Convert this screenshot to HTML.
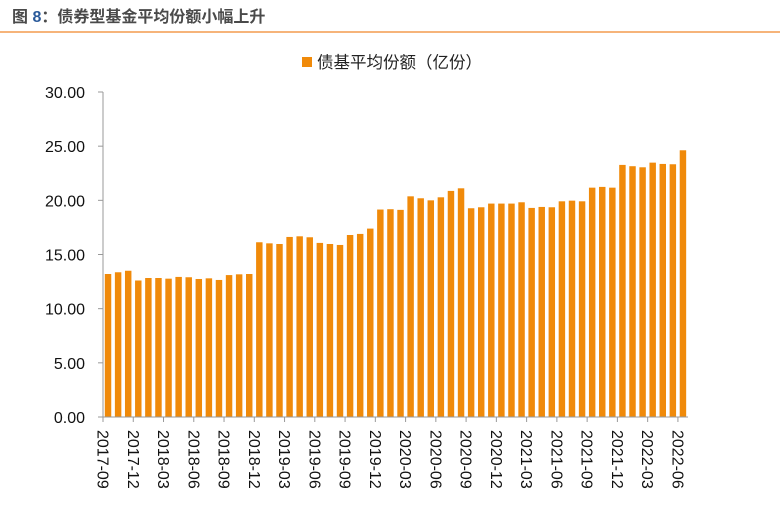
<!DOCTYPE html>
<html><head><meta charset="utf-8"><style>
body{margin:0;background:#fff;}
svg{display:block;font-family:"Liberation Sans","Noto Sans CJK SC",sans-serif;}
</style></head><body>
<svg id="c" width="780" height="505">
<text x="12" y="22" font-size="16" font-weight="bold" fill="#4a4a4a">图 <tspan fill="#2a5a9a">8</tspan>：债券型基金平均份额小幅上升</text>
<line x1="0" y1="32" x2="780" y2="32" stroke="#f0862a" stroke-width="1.2"/>
<g>
<rect x="302" y="57" width="10" height="10" fill="#f08a0a"/>
<text x="317" y="68" font-size="16.5" fill="#222">债基平均份额（亿份）</text>
</g>
<g id="plot"></g>
</svg>
<script>
const categories=[];
(function(){let y=2017,m=9;for(let i=0;i<58;i++){categories.push(y+'-'+String(m).padStart(2,'0'));m++;if(m>12){m=1;y++;}}})();
const values=[13.2,13.36,13.5,12.6,12.83,12.83,12.77,12.93,12.9,12.74,12.8,12.65,13.1,13.17,13.2,16.13,16.03,15.97,16.62,16.68,16.59,16.07,15.97,15.88,16.8,16.9,17.39,19.15,19.18,19.12,20.37,20.19,20.0,20.28,20.87,21.11,19.27,19.36,19.7,19.7,19.7,19.82,19.3,19.39,19.36,19.91,19.97,19.91,21.17,21.24,21.17,23.27,23.15,23.05,23.48,23.36,23.33,24.62];
const yTicks=[0,5,10,15,20,25,30];
const yTickLabels=["0.00","5.00","10.00","15.00","20.00","25.00","30.00"];
const NS="http://www.w3.org/2000/svg";
const g=document.getElementById('plot');
const x0=103,x1=688,yBase=417,yTop=92,yMax=30;
const step=(x1-x0)/categories.length;
const yS=v=>yBase-(v/yMax)*(yBase-yTop);
const xS=i=>x0+i*step;
function mk(t,a){const e=document.createElementNS(NS,t);for(const k in a)e.setAttribute(k,a[k]);g.appendChild(e);return e;}
yTicks.forEach((t,i)=>{
 const l=mk('line',{x1:x0-5,x2:x0,y1:yS(t),y2:yS(t),stroke:'#999'});
 
 
 const tx=mk('text',{x:85,y:yS(t)+6,'font-size':16,'text-anchor':'end',fill:'#111'});
 tx.textContent=yTickLabels[i];
 
 
});
values.forEach((v,i)=>{
 const r=mk('rect',{x:xS(i)+1.8,y:yS(v),width:step*0.64,height:yBase-yS(v),fill:'#f08a0a'});
 
 
});
const ax=mk('line',{x1:x0,x2:x0,y1:yTop,y2:yBase,stroke:'#999'});


const bx=mk('line',{x1:x0-5,x2:x1,y1:yBase,y2:yBase,stroke:'#999'});


categories.forEach((c,i)=>{
 if(i%3!==0)return;
 const x=xS(i);
 const t=mk('line',{x1:x,x2:x,y1:yBase,y2:yBase+5,stroke:'#999'});
 
 
 const tx=mk('text',{x:0,y:0,'font-size':16,fill:'#111',transform:`translate(${x-5.5},${yBase+13}) rotate(90)`});
 tx.textContent=c;
 
 
});
</script>
</body></html>
